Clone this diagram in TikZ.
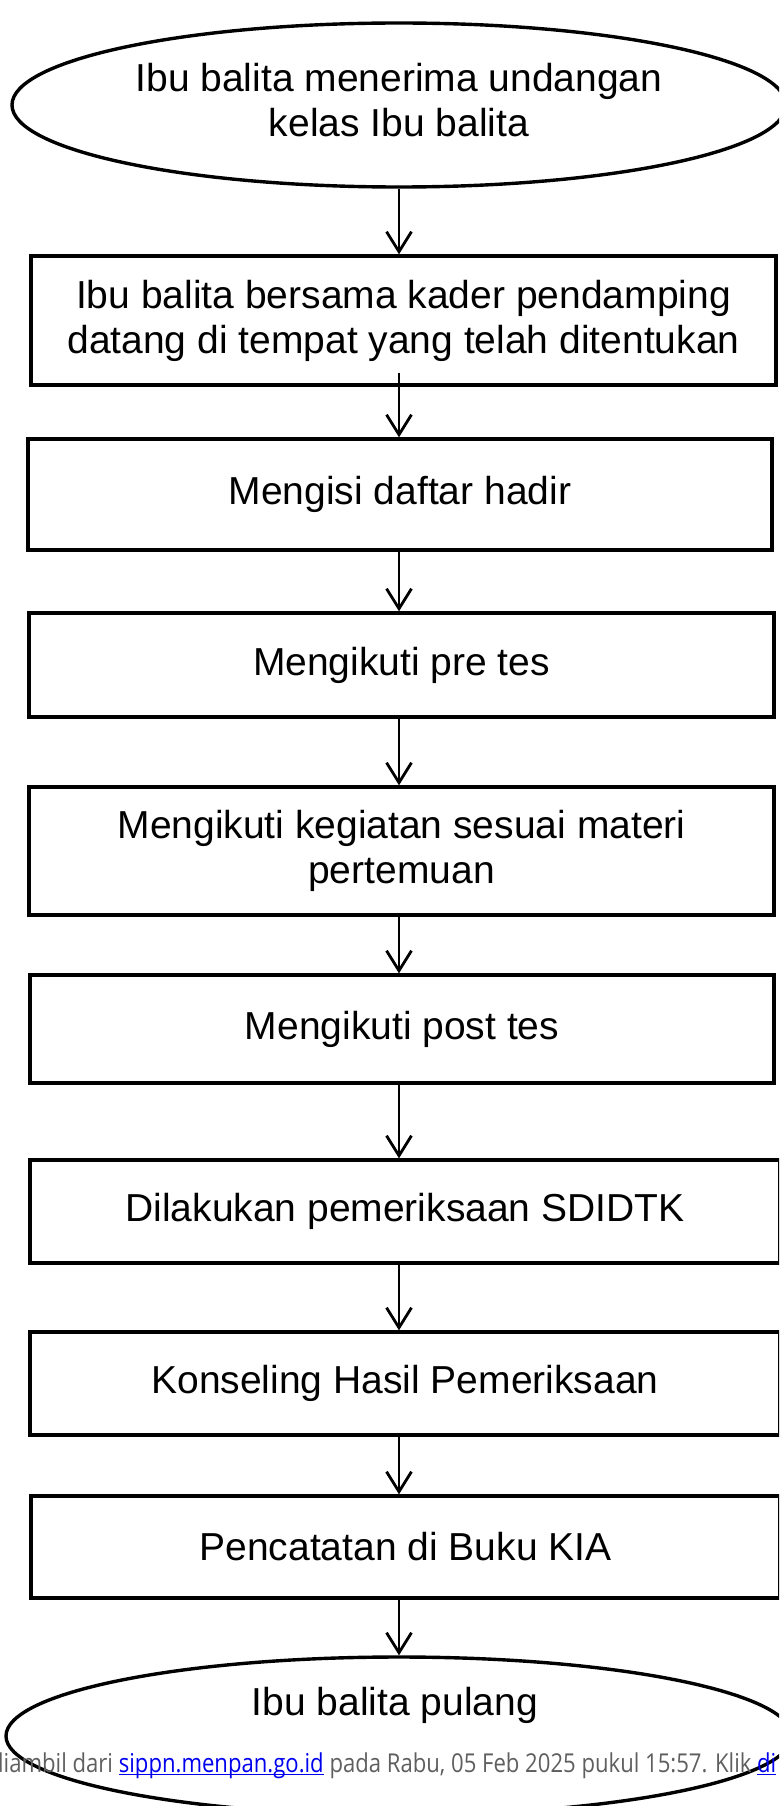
\documentclass[tikz,border=0pt]{standalone}
\usepackage{fontspec}
\setmainfont{Liberation Sans}
\newfontfamily\footfont[FakeStretch=0.85]{Open Sans}
\usetikzlibrary{arrows.meta,shapes.geometric}
\definecolor{footgrey}{HTML}{5F5F5F}
\definecolor{linkblue}{HTML}{0000EE}
\newcommand\linktext[1]{{\color{linkblue}\setbox0=\hbox{#1}\rlap{\rule[-3pt]{\wd0}{1.5pt}}\box0}}
\begin{document}
\begin{tikzpicture}[x=1pt,y=-1pt,
  stepbox/.style={draw,line width=3.4pt,rectangle,minimum width=#1,inner sep=0pt,align=center,
    font=\fontsize{39}{45}\selectfont},
  oval/.style={draw,line width=3.4pt,ellipse,inner sep=0pt,align=center,
    font=\fontsize{39}{45}\selectfont},
  flow/.style={line width=2.8pt,-{Straight Barb[length=20pt,width=25pt,line width=2.8pt]}},
  foot/.style={inner sep=0pt,font=\footfont\fontsize{26}{30}\selectfont,text=footgrey}]
\useasboundingbox (0,0) rectangle (779,1806);
\clip (0,0) rectangle (779,1806);
\coordinate (axis) at (399,0);
\node[oval,minimum width=774pt,minimum height=164pt] (e1) at (399,105) {};
\node[font=\fontsize{39}{45}\selectfont,align=center] (t1) at (399,100) {Ibu balita menerima undangan\\kelas Ibu balita};
\node[stepbox=745pt,minimum height=129pt] (b2) at (403.5,320.5) {Ibu balita bersama kader pendamping\\datang di tempat yang telah ditentukan};
\node[stepbox=744pt,minimum height=111pt] (b3) at (400,494.5) {Mengisi daftar hadir};
\node[stepbox=745pt,minimum height=104pt] (b4) at (401.5,665) {Mengikuti pre tes};
\node[stepbox=745pt,minimum height=128pt] (b5) at (401.5,851) {Mengikuti kegiatan sesuai materi\\pertemuan};
\node[stepbox=744pt,minimum height=108pt] (b6) at (402,1029) {Mengikuti post tes};
\node[stepbox=750pt,minimum height=103pt] (b7) at (405,1211.5) {Dilakukan pemeriksaan SDIDTK};
\node[stepbox=750pt,minimum height=103pt] (b8) at (405,1383.5) {Konseling Hasil Pemeriksaan};
\node[stepbox=749pt,minimum height=102pt] (b9) at (405.5,1547) {Pencatatan di Buku KIA};
\node[oval,minimum width=786pt,minimum height=158pt] (e2) at (399,1736) {};
\node[font=\fontsize{39}{45}\selectfont] (t2) at (395,1705) {Ibu balita pulang};
\draw[flow] (e1.south -| axis) -- (b2.north -| axis);
\draw[flow] ([yshift=14pt]b2.south -| axis) -- (b3.north -| axis);
\draw[flow] (b3.south -| axis) -- (b4.north -| axis);
\draw[flow] (b4.south -| axis) -- (b5.north -| axis);
\draw[flow] (b5.south -| axis) -- (b6.north -| axis);
\draw[flow] (b6.south -| axis) -- (b7.north -| axis);
\draw[flow] (b7.south -| axis) -- (b8.north -| axis);
\draw[flow] (b8.south -| axis) -- (b9.north -| axis);
\draw[flow] (b9.south -| axis) -- (e2.north -| axis);
\node[foot,anchor=base west] (ft) at (-10,1772) {diambil dari \linktext{sippn.menpan.go.id} pada Rabu, 05 Feb 2025 pukul 15:57. Klik \linktext{di}};
\end{tikzpicture}
\end{document}
